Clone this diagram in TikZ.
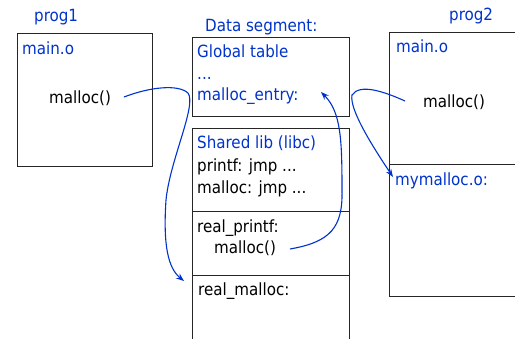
\documentclass[tikz,border=0pt]{standalone}
\usepackage{fontspec}
\setmainfont{DejaVu Sans Condensed}
\usetikzlibrary{arrows.meta}
\definecolor{lblue}{HTML}{0033CC}
\begin{document}
\begin{tikzpicture}[x=1pt,y=-1pt,
  box/.style={draw=black!85,line width=1.3pt,anchor=north west,inner sep=0pt},
  txt/.style={anchor=base west,inner sep=0pt,font=\fontsize{16.8}{20}\selectfont},
  btxt/.style={txt,text=lblue},
  link/.style={draw=lblue,line width=1.1pt,-{Stealth[length=8pt,width=6pt]}}]
\clip (0,0) rectangle (515,338);
\fill[white] (0,0) rectangle (515,338);
% prog1
\node[box,minimum width=135pt,minimum height=133pt] (p1) at (16.5,33) {};
\node[btxt] (p1lab) at (34,21) {prog1};
\node[btxt] (p1main) at (22,54) {main.o};
\node[txt] (p1mal) at (49,103) {malloc()};
% data segment
\node[box,minimum width=157pt,minimum height=79pt] (ds) at (192,37) {};
\node[btxt] (dslab) at (205,31) {Data segment:};
\node[btxt] (gt) at (197,57) {Global table};
\node[btxt] (dots) at (197,79) {...};
\node[btxt] (me) at (197,100) {malloc\_entry:};
% shared lib
\node[box,minimum width=157pt,minimum height=82.5pt] (sl) at (192,128) {};
\node[box,minimum width=157pt,minimum height=64.5pt] (rp) at (192,210.5) {};
\node[box,minimum width=157pt,minimum height=80pt] (rm) at (192,275) {};
\node[btxt] (sllab) at (197,148) {Shared lib (libc)};
\node[txt] (pj) at (197,171) {printf: jmp ...};
\node[txt] (mj) at (197,193) {malloc: jmp ...};
\node[txt] (rpl) at (197,232) {real\_printf:};
\node[txt] (rpm) at (214,253) {malloc()};
\node[txt] (rml) at (198,295) {real\_malloc:};
% prog2
\node[box,minimum width=140pt,minimum height=132pt] (p2a) at (389,32) {};
\node[box,minimum width=140pt,minimum height=132pt] (p2b) at (389,164) {};
\node[btxt] (p2lab) at (449,20) {prog2};
\node[btxt] (p2main) at (396,52) {main.o};
\node[txt] (p2mal) at (423,107) {malloc()};
\node[btxt] (mym) at (395,185) {mymalloc.o:};
% connector ends
\coordinate (a1) at (124,97);
\coordinate (b1) at (184,281);
\coordinate (a2) at (290,249);
\coordinate (b2) at (321,92);
\coordinate (a3) at (405,101);
\coordinate (b3) at (393,177);
\draw[link] (a1) .. controls (150,87) and (178,84) .. (188,93)
  .. controls (197,105) and (170,160) .. (166,200)
  .. controls (163,245) and (168,268) .. (b1);
\draw[link] (a2) .. controls (330,242) and (343,228) .. (342,190)
  .. controls (342,140) and (341,112) .. (b2);
\draw[link] (a3) .. controls (385,92) and (360,83) .. (352,95)
  .. controls (349,110) and (375,150) .. (b3);
\end{tikzpicture}
\end{document}
